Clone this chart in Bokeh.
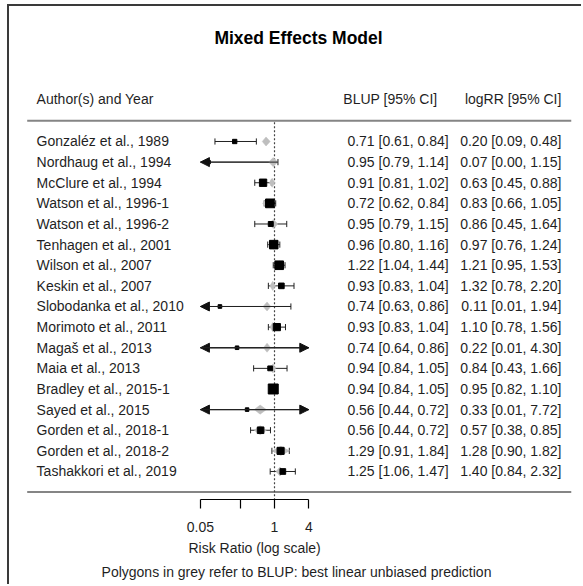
import numpy as np
from bokeh.plotting import figure
from bokeh.models import (Range1d, LinearAxis, FixedTicker, CustomJSTickFormatter,
                          ColumnDataSource, Arrow, NormalHead, Title)
from bokeh.core.properties import value
from bokeh.embed import file_html
from bokeh.resources import INLINE

# ---------------- data ----------------
studies = ["Gonzaléz et al., 1989", "Nordhaug et al., 1994", "McClure et al., 1994",
           "Watson et al., 1996-1", "Watson et al., 1996-2", "Tenhagen et al., 2001",
           "Wilson et al., 2007", "Keskin et al., 2007", "Slobodanka et al., 2010",
           "Morimoto et al., 2011", "Magaš et al., 2013", "Maia et al., 2013",
           "Bradley et al., 2015-1", "Sayed et al., 2015", "Gorden et al., 2018-1",
           "Gorden et al., 2018-2", "Tashakkori et al., 2019"]

blup    = [0.71, 0.95, 0.91, 0.72, 0.95, 0.96, 1.22, 0.93, 0.74, 0.93, 0.74, 0.94, 0.94, 0.56, 0.56, 1.29, 1.25]
blup_lo = [0.61, 0.79, 0.81, 0.62, 0.79, 0.80, 1.04, 0.83, 0.63, 0.83, 0.64, 0.84, 0.84, 0.44, 0.44, 0.91, 1.06]
blup_hi = [0.84, 1.14, 1.02, 0.84, 1.15, 1.16, 1.44, 1.04, 0.86, 1.04, 0.86, 1.05, 1.05, 0.72, 0.72, 1.84, 1.47]

rr      = [0.20, 0.07, 0.63, 0.83, 0.86, 0.97, 1.21, 1.32, 0.11, 1.10, 0.22, 0.84, 0.95, 0.33, 0.57, 1.28, 1.40]
rr_lo   = [0.09, 0.00, 0.45, 0.66, 0.45, 0.76, 0.95, 0.78, 0.01, 0.78, 0.01, 0.43, 0.82, 0.01, 0.38, 0.90, 0.84]
rr_hi   = [0.48, 1.15, 0.88, 1.05, 1.64, 1.24, 1.53, 2.20, 1.94, 1.56, 4.30, 1.66, 1.10, 7.72, 0.85, 1.82, 2.32]

# estimated study weights (%), read from the square sizes
weights = [2.3, 0.2, 8.4, 11.2, 3.6, 10.8, 11.0, 4.9, 0.9, 8.1, 0.8, 3.3, 13.8, 0.7, 6.9, 7.9, 5.1]

tick_values = [0.05, 0.25, 1, 4]
tick_labels = ["0.05", "", "1", "4"]
axis_limits = (0.05, 4.0)
ref_value = 1.0

title_text = "Mixed Effects Model"
header_labels = ["Author(s) and Year", "BLUP [95% CI]", "logRR [95% CI]"]
x_label = "Risk Ratio (log scale)"
footnote = "Polygons in grey refer to BLUP: best linear unbiased prediction"

# ---------------- layout constants ----------------
FONT = "Liberation Sans"
TXT = "#1f1f1f"
n = len(studies)
rows = np.arange(n, 0, -1).astype(float)      # 17 (top) ... 1 (bottom)
XMIN, XMAX = -10.716, 12.495                  # ln(RR) units across the frame
YMIN, YMAX = -0.358, 23.545
XL, XR = -10.0, 12.0                          # extent of the table rules
X_NAME, X_BLUP, X_BLUP_HEAD, X_RR = -9.62, 7.04, 6.59, 11.6

amin, amax = axis_limits

p = figure(width=574, height=580, output_backend="svg", toolbar_location=None,
           x_range=Range1d(XMIN, XMAX), y_range=Range1d(YMIN, YMAX),
           x_axis_location=None, y_axis_location=None,
           min_border_left=0, min_border_right=0, min_border_top=0, min_border_bottom=87)
p.outline_line_color = None
p.background_fill_color = "white"
p.border_fill_color = "white"
p.grid.visible = False
# the picture's frame: dark rule on the left and top
p.styles = {"border-left": "2px solid #3a3a3a", "border-top": "2px solid #3a3a3a",
            "margin-left": "7px", "margin-top": "4px"}

# table rules
p.segment(x0=[XL, XL], y0=[0, n + 1], x1=[XR, XR], y1=[0, n + 1], line_color="#858585", line_width=2)

# reference line
p.segment(x0=[np.log(ref_value)], y0=[YMIN - 1], x1=[np.log(ref_value)], y1=[n + 1],
          line_color="#444444", line_width=1.2, line_dash="2 2")

# CI lines (clipped to axis limits)
lo_c = np.log(np.maximum(np.array(rr_lo), amin))
hi_c = np.log(np.minimum(np.array(rr_hi), amax))
p.segment(x0=lo_c, y0=rows, x1=hi_c, y1=rows, line_color="#222222", line_width=1)

cap_x, cap_y = [], []
for y, lo, hi in zip(rows, rr_lo, rr_hi):
    if lo >= amin:
        cap_x.append(np.log(lo)); cap_y.append(y)
    if hi <= amax:
        cap_x.append(np.log(hi)); cap_y.append(y)
cap_y = np.array(cap_y)
p.segment(x0=cap_x, y0=cap_y - 0.15, x1=cap_x, y1=cap_y + 0.15, line_color="#222222", line_width=1)

# arrows where CI exceeds axis limits
left_idx = [i for i in range(n) if rr_lo[i] < amin]
right_idx = [i for i in range(n) if rr_hi[i] > amax]
lsrc = ColumnDataSource(dict(xs=[hi_c[i] for i in left_idx], xe=[np.log(amin)] * len(left_idx),
                             y=[rows[i] for i in left_idx]))
rsrc = ColumnDataSource(dict(xs=[lo_c[i] for i in right_idx], xe=[np.log(amax)] * len(right_idx),
                             y=[rows[i] for i in right_idx]))
for src in (lsrc, rsrc):
    p.add_layout(Arrow(end=NormalHead(size=9, fill_color="#111111", line_color="#111111", line_width=1),
                       x_start="xs", y_start="y", x_end="xe", y_end="y", source=src,
                       line_color="#222222", line_width=1))

# BLUP diamonds (grey polygons)
h = 0.22
dxs = [[np.log(l), np.log(b), np.log(u), np.log(b)] for b, l, u in zip(blup, blup_lo, blup_hi)]
dys = [[y, y + h, y, y - h] for y in rows]
p.patches(xs=dxs, ys=dys, fill_color="#BEBEBE", line_color="#BEBEBE", line_width=0.5)

# observed squares, sized by weight
w = np.array(weights)
sizes = 3.3 + 6.7 * (w - w.min()) / (w.max() - w.min())
p.scatter(x=np.log(rr), y=rows, size=sizes, marker="square", fill_color="black", line_color="black")

# text columns
src = ColumnDataSource(dict(
    y=rows, name=studies,
    btxt=[f"{b:.2f} [{l:.2f}, {u:.2f}]" for b, l, u in zip(blup, blup_lo, blup_hi)],
    rtxt=[f"{b:.2f} [{l:.2f}, {u:.2f}]" for b, l, u in zip(rr, rr_lo, rr_hi)]))
common = dict(text_font=value(FONT), text_font_size="14px", text_baseline="middle", text_color=TXT)
p.text(x=X_NAME, y="y", text="name", source=src, text_align="left", **common)
p.text(x=X_BLUP, y="y", text="btxt", source=src, text_align="right", **common)
p.text(x=X_RR, y="y", text="rtxt", source=src, text_align="right", **common)

# headers and title
p.text(x=[X_NAME], y=[n + 2.08], text=[header_labels[0]], text_align="left", **common)
p.text(x=[X_BLUP_HEAD], y=[n + 2.08], text=[header_labels[1]], text_align="right", **common)
p.text(x=[X_RR], y=[n + 2.08], text=[header_labels[2]], text_align="right", **common)
p.text(x=[0.97], y=[n + 5.04], text=[title_text], text_align="center", text_font=value(FONT),
       text_font_size="17.5px", text_font_style="bold", text_baseline="middle", text_color="black")

# x axis (log scale in ln units)
tick_pos = [float(np.log(t)) for t in tick_values]
ax = LinearAxis(
    ticker=FixedTicker(ticks=tick_pos, minor_ticks=[]),
    formatter=CustomJSTickFormatter(args=dict(pos=tick_pos, labs=tick_labels), code="""
        let best = 0, d = Infinity;
        for (let i = 0; i < pos.length; i++) {
            const e = Math.abs(pos[i] - tick);
            if (e < d) { d = e; best = i; }
        }
        return labs[best];"""),
    bounds=(float(np.log(amin)), float(np.log(amax))))
ax.axis_line_color = "black"
ax.axis_line_width = 1.2
ax.major_tick_line_color = "black"
ax.major_tick_line_width = 1.2
ax.major_tick_in = 0
ax.major_tick_out = 9
ax.minor_tick_line_color = None
ax.major_label_standoff = 13
ax.major_label_text_font = FONT
ax.major_label_text_font_size = "14px"
ax.major_label_text_color = TXT
p.add_layout(ax, "below")

# axis title, centred under the axis ticks
p.add_layout(Title(text=x_label, align="left", offset=179, standoff=7, text_font=FONT,
                   text_font_size="14px", text_font_style="normal", text_color=TXT), "below")
p.add_layout(Title(text=footnote, align="center", standoff=4, text_font=FONT, text_font_size="14px",
                   text_font_style="normal", text_color=TXT), "below")

open("out.html", "w").write(file_html(p, INLINE))
